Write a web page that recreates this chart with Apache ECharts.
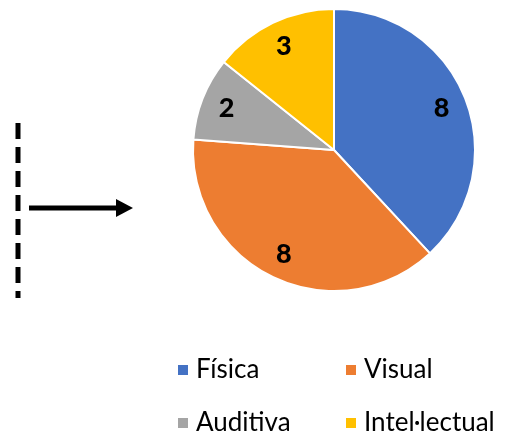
<!DOCTYPE html>
<html>
<head>
<meta charset="utf-8">
<script src="https://cdn.jsdelivr.net/npm/echarts@6/dist/echarts.min.js"></script>
<style>
  html, body { margin: 0; padding: 0; background: #fff; }
  #chart { width: 517px; height: 432px; }
</style>
</head>
<body>
<div id="chart"></div>
<script>
// dades
const categories = ["Física", "Visual", "Auditiva", "Intel·lectual"];
const values = [8, 8, 2, 3];
const colors = ["#4472C4", "#ED7D31", "#A5A5A5", "#FFC000"];

const chart = echarts.init(document.getElementById("chart"));

const pieData = categories.map((name, i) => ({
  name: name,
  value: values[i],
  itemStyle: { color: colors[i] }
}));

// transparent ring only used to place labels further out
const labelData = categories.map((name, i) => ({
  name: "lbl" + i,
  value: values[i]
}));

// one legend per item, laid out as a 2x2 grid
const legendPos = [
  { left: 176, top: 357 },
  { left: 344, top: 357 },
  { left: 176, top: 410 },
  { left: 344, top: 410 }
];

const legends = categories.map((name, i) => ({
  data: [name],
  orient: "horizontal",
  left: legendPos[i].left,
  top: legendPos[i].top,
  padding: 0,
  icon: "rect",
  itemWidth: 12,
  itemHeight: 12,
  textStyle: {
    fontFamily: "Lato",
    fontSize: 26,
    color: "#000",
    padding: [0, 0, 0, 2]
  }
}));

chart.setOption({
  animation: false,
  legend: legends,
  graphic: [
    {
      type: "line",
      shape: { x1: 18, y1: 123, x2: 18, y2: 298 },
      style: { stroke: "#000", lineWidth: 5, lineDash: [16, 8] }
    },
    {
      type: "line",
      shape: { x1: 29, y1: 208, x2: 119, y2: 208 },
      style: { stroke: "#000", lineWidth: 5 }
    },
    {
      type: "polygon",
      shape: { points: [[116, 199], [133, 208], [116, 217]] },
      style: { fill: "#000" }
    }
  ],
  series: [
    {
      type: "pie",
      center: [334, 150],
      radius: [0, 141],
      startAngle: 90,
      clockwise: true,
      label: { show: false },
      labelLine: { show: false },
      itemStyle: { borderColor: "#fff", borderWidth: 2 },
      emphasis: { disabled: true },
      data: pieData
    },
    {
      type: "pie",
      center: [334, 150],
      radius: [84, 141],
      startAngle: 90,
      clockwise: true,
      silent: true,
      itemStyle: { color: "rgba(0,0,0,0)" },
      label: {
        show: true,
        position: "inside",
        formatter: "{c}",
        fontFamily: "Lato",
        fontWeight: 900,
        fontSize: 27,
        color: "#000"
      },
      labelLine: { show: false },
      emphasis: { disabled: true },
      data: labelData
    }
  ]
});
</script>
</body>
</html>
